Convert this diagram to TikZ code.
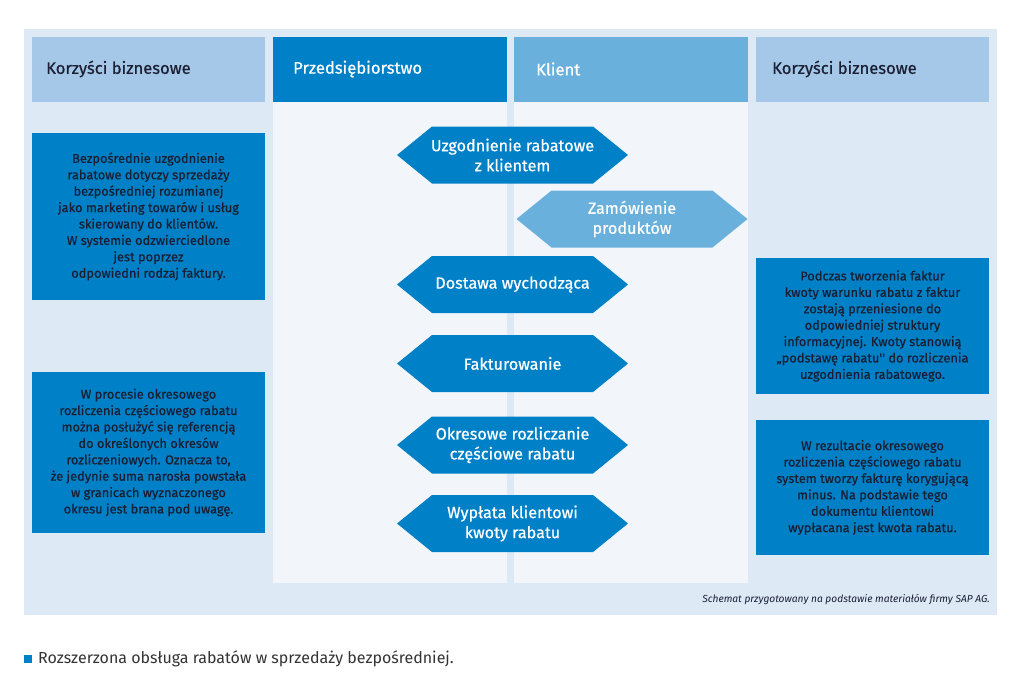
\documentclass[tikz,border=0pt]{standalone}
\usepackage{fontspec}
\setmainfont{Fira Sans}
\newfontfamily\medfont{Fira Sans}[FakeBold=0.6]
\usetikzlibrary{positioning}
\definecolor{bgblue}{HTML}{DDEAF6}
\definecolor{lanebg}{HTML}{F2F6FB}
\definecolor{hdrlight}{HTML}{A6C8E8}
\definecolor{hdrdark}{HTML}{0080C6}
\definecolor{hdrmid}{HTML}{6AB0DC}
\definecolor{txtdark}{HTML}{1A1F33}
\definecolor{captxt}{HTML}{333333}
\tikzset{
  hdr/.style={anchor=west,font=\medfont\fontsize{16.6}{18}\selectfont,inner sep=0pt},
  infobox/.style={fill=hdrdark,draw=none,inner sep=0pt,align=center,text=txtdark,
     font=\medfont\fontsize{12.8}{16.4}\selectfont},
  hextext/.style={align=center,text=white,font=\medfont\fontsize{16.2}{20}\selectfont,inner sep=0pt},
}
% hexagon: name, cx, cy, colour, text
\newcommand{\hexa}[5]{%
  \fill[#4] (#2-115.5,#3) -- (#2-80.5,#3-28.5) -- (#2+80.5,#3-28.5) -- (#2+115.5,#3)
     -- (#2+80.5,#3+28.5) -- (#2-80.5,#3+28.5) -- cycle;
  \node[hextext] (#1) at (#2,#3) {#5};}
\begin{document}
\begin{tikzpicture}[x=1pt,y=-1pt]
\useasboundingbox (0,0) rectangle (1024,689);
\fill[white] (0,0) rectangle (1024,689);
% outer background
\fill[bgblue] (24,29) rectangle (997,615);
% lanes
\fill[lanebg] (273,102) rectangle (507,583);
\fill[lanebg] (514,102) rectangle (748,583);
% headers
\fill[hdrlight] (32,37) rectangle (265,102);
\fill[hdrdark] (273,37) rectangle (507,102);
\fill[hdrmid] (514,37) rectangle (748,102);
\fill[hdrlight] (756,37) rectangle (989,102);
\node[hdr,text=txtdark] (h1) at (46,69) {Korzyści biznesowe};
\node[hdr,text=white] (h2) at (293,69) {Przedsiębiorstwo};
\node[hdr,text=white] (h3) at (536,69) {Klient};
\node[hdr,text=txtdark] (h4) at (772,69) {Korzyści biznesowe};
% info boxes
\node[infobox,minimum width=233,minimum height=167] (b1) at (148.5,216.5)
 {Bezpośrednie uzgodnienie\\rabatowe dotyczy sprzedaży\\bezpośredniej rozumianej\\jako marketing towarów i usług\\skierowany do klientów.\\W systemie odzwierciedlone\\jest poprzez\\odpowiedni rodzaj faktury.};
\node[infobox,minimum width=233,minimum height=161] (b2) at (148.5,452.5)
 {W procesie okresowego\\rozliczenia częściowego rabatu\\można posłużyć się referencją\\do określonych okresów\\rozliczeniowych. Oznacza to,\\że jedynie suma narosła powstała\\w granicach wyznaczonego\\okresu jest brana pod uwagę.};
\node[infobox,minimum width=233,minimum height=136] (b3) at (872.5,326)
 {Podczas tworzenia faktur\\kwoty warunku rabatu z faktur\\zostają przeniesione do\\odpowiedniej struktury\\informacyjnej. Kwoty stanowią\\„podstawę rabatu'' do rozliczenia\\uzgodnienia rabatowego.};
\node[infobox,minimum width=233,minimum height=135] (b4) at (872.5,487.5)
 {W rezultacie okresowego\\rozliczenia częściowego rabatu\\system tworzy fakturę korygującą\\minus. Na podstawie tego\\dokumentu klientowi\\wypłacana jest kwota rabatu.};
% hexagons
\hexa{s1}{512.5}{155}{hdrdark}{Uzgodnienie rabatowe\\z klientem}
\hexa{s2}{632}{219}{hdrmid}{Zamówienie\\produktów}
\hexa{s3}{512.5}{284.5}{hdrdark}{Dostawa wychodząca}
\hexa{s4}{512.5}{363.5}{hdrdark}{Fakturowanie}
\hexa{s5}{512.5}{445}{hdrdark}{Okresowe rozliczanie\\częściowe rabatu}
\hexa{s6}{512.5}{523.5}{hdrdark}{Wypłata klientowi\\kwoty rabatu}
% captions
\node[anchor=east,inner sep=0pt,text=txtdark,font=\fontsize{10.2}{13}\selectfont\itshape] (src) at (990,600)
 {Schemat przygotowany na podstawie materiałów firmy SAP AG.};
\fill[hdrdark] (24,655) rectangle (32,663);
\node[anchor=west,inner sep=0pt,text=captxt,font=\fontsize{16}{18}\selectfont] (cap) at (38,659)
 {Rozszerzona obsługa rabatów w sprzedaży bezpośredniej.};
\end{tikzpicture}
\end{document}
